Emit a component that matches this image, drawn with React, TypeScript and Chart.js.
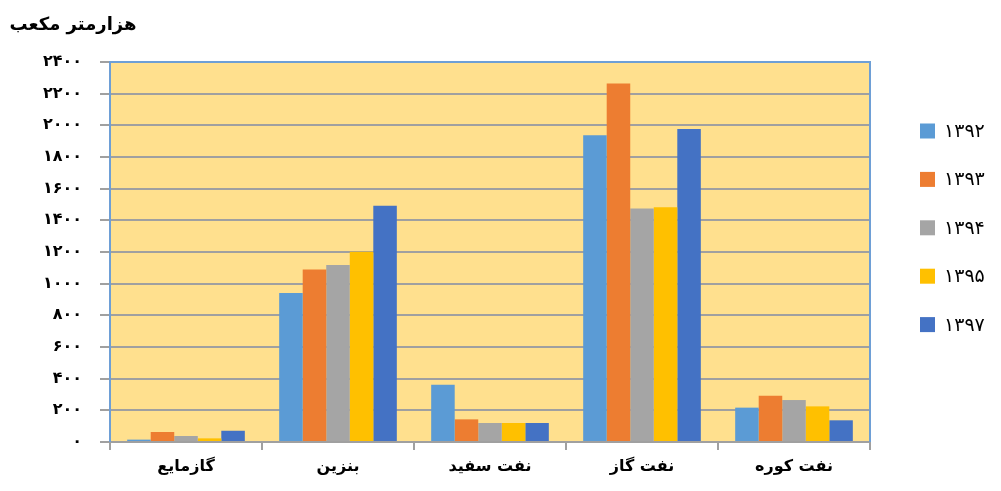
import React, { useEffect, useRef } from 'react';
import { Chart, registerables } from 'chart.js';

Chart.register(...registerables);

const categories = ['گازمایع', 'بنزین', 'نفت سفید', 'نفت گاز', 'نفت کوره'];
const seriesLabels = ['۱۳۹۲', '۱۳۹۳', '۱۳۹۴', '۱۳۹۵', '۱۳۹۷'];
const values1392 = [15, 941, 362, 1937, 217];
const values1393 = [63, 1090, 143, 2265, 292];
const values1394 = [38, 1118, 120, 1474, 265];
const values1395 = [23, 1202, 120, 1483, 225];
const values1397 = [71, 1492, 120, 1977, 137];
const seriesColors = ['#5B9BD5', '#ED7D31', '#A5A5A5', '#FFC000', '#4472C4'];
const yMin = 0;
const yMax = 2400;
const yStep = 200;
const yTitle = 'هزارمتر مکعب';

const FONT = "'DejaVu Sans', sans-serif";

const toPersianDigits = (n: number | string) =>
  String(n).replace(/[0-9]/g, (d) => '۰۱۲۳۴۵۶۷۸۹'[Number(d)]);

const frame = {
  id: 'frame',
  beforeDraw(chart: any) {
    const { ctx, chartArea } = chart;
    ctx.save();
    ctx.fillStyle = '#FFE08E';
    ctx.fillRect(chartArea.left, chartArea.top, chartArea.right - chartArea.left, chartArea.bottom - chartArea.top);
    ctx.restore();
  },
  afterDatasetsDraw(chart: any) {
    const { ctx, chartArea } = chart;
    ctx.save();
    ctx.strokeStyle = '#6E9FD6';
    ctx.lineWidth = 2;
    ctx.beginPath();
    ctx.moveTo(chartArea.left, chartArea.bottom);
    ctx.lineTo(chartArea.left, chartArea.top);
    ctx.lineTo(chartArea.right, chartArea.top);
    ctx.lineTo(chartArea.right, chartArea.bottom);
    ctx.stroke();
    ctx.restore();
  },
  afterDraw(chart: any) {
    const { ctx } = chart;
    ctx.save();
    // y-axis title
    ctx.font = `bold 18px ${FONT}`;
    ctx.fillStyle = '#000';
    ctx.textAlign = 'center';
    ctx.textBaseline = 'middle';
    ctx.fillText(yTitle, 73, 25);
    // legend
    ctx.font = `19px ${FONT}`;
    ctx.textAlign = 'left';
    chart.data.datasets.forEach((ds: any, i: number) => {
      const cy = 131 + i * 48.4;
      ctx.fillStyle = ds.backgroundColor;
      ctx.fillRect(920, cy - 7.5, 15, 15);
      ctx.fillStyle = '#000';
      ctx.fillText(ds.label, 944, cy + 1);
    });
    ctx.restore();
  },
};

export default function App() {
  const canvasRef = useRef<HTMLCanvasElement | null>(null);

  useEffect(() => {
    if (!canvasRef.current) return;
    const seriesValues = [values1392, values1393, values1394, values1395, values1397];
    const chart = new Chart(canvasRef.current, {
      type: 'bar',
      data: {
        labels: categories,
        datasets: seriesLabels.map((label, i) => ({
          label,
          data: seriesValues[i],
          backgroundColor: seriesColors[i],
          borderWidth: 0,
          barPercentage: 1,
          categoryPercentage: 0.774,
        })),
      },
      options: {
        responsive: false,
        animation: false,
        layout: { padding: { top: 62, right: 131, left: 0, bottom: 0 } },
        plugins: {
          legend: { display: false },
          tooltip: { enabled: false },
          title: { display: false },
        },
        scales: {
          x: {
            offset: true,
            grid: {
              display: true,
              offset: true,
              drawOnChartArea: false,
              drawTicks: true,
              tickLength: 8,
              color: '#A0A0A0',
              lineWidth: 2,
            },
            border: { display: true, color: '#A0A0A0', width: 2 },
            ticks: {
              color: '#000',
              font: { family: FONT, size: 16, weight: 'bold' },
              padding: 7,
              maxRotation: 0,
            },
            afterFit(scale: any) {
              scale.height = 49;
            },
          },
          y: {
            min: yMin,
            max: yMax,
            ticks: {
              stepSize: yStep,
              color: '#000',
              font: { family: FONT, size: 16, weight: 'bold' },
              padding: 18,
              callback: (v: any) => toPersianDigits(v),
            },
            grid: {
              color: '#A0A0A0',
              lineWidth: 2,
              drawTicks: true,
              tickLength: 10,
            },
            border: { display: false },
            afterFit(scale: any) {
              scale.width = 110;
            },
          },
        },
      },
      plugins: [frame],
    });
    return () => chart.destroy();
  }, []);

  return (
    <div style={{ position: 'absolute', left: 0, top: 0, width: 1001, height: 491, background: '#fff' }}>
      <canvas ref={canvasRef} width={1001} height={491} style={{ display: 'block', width: 1001, height: 491 }} />
    </div>
  );
}
